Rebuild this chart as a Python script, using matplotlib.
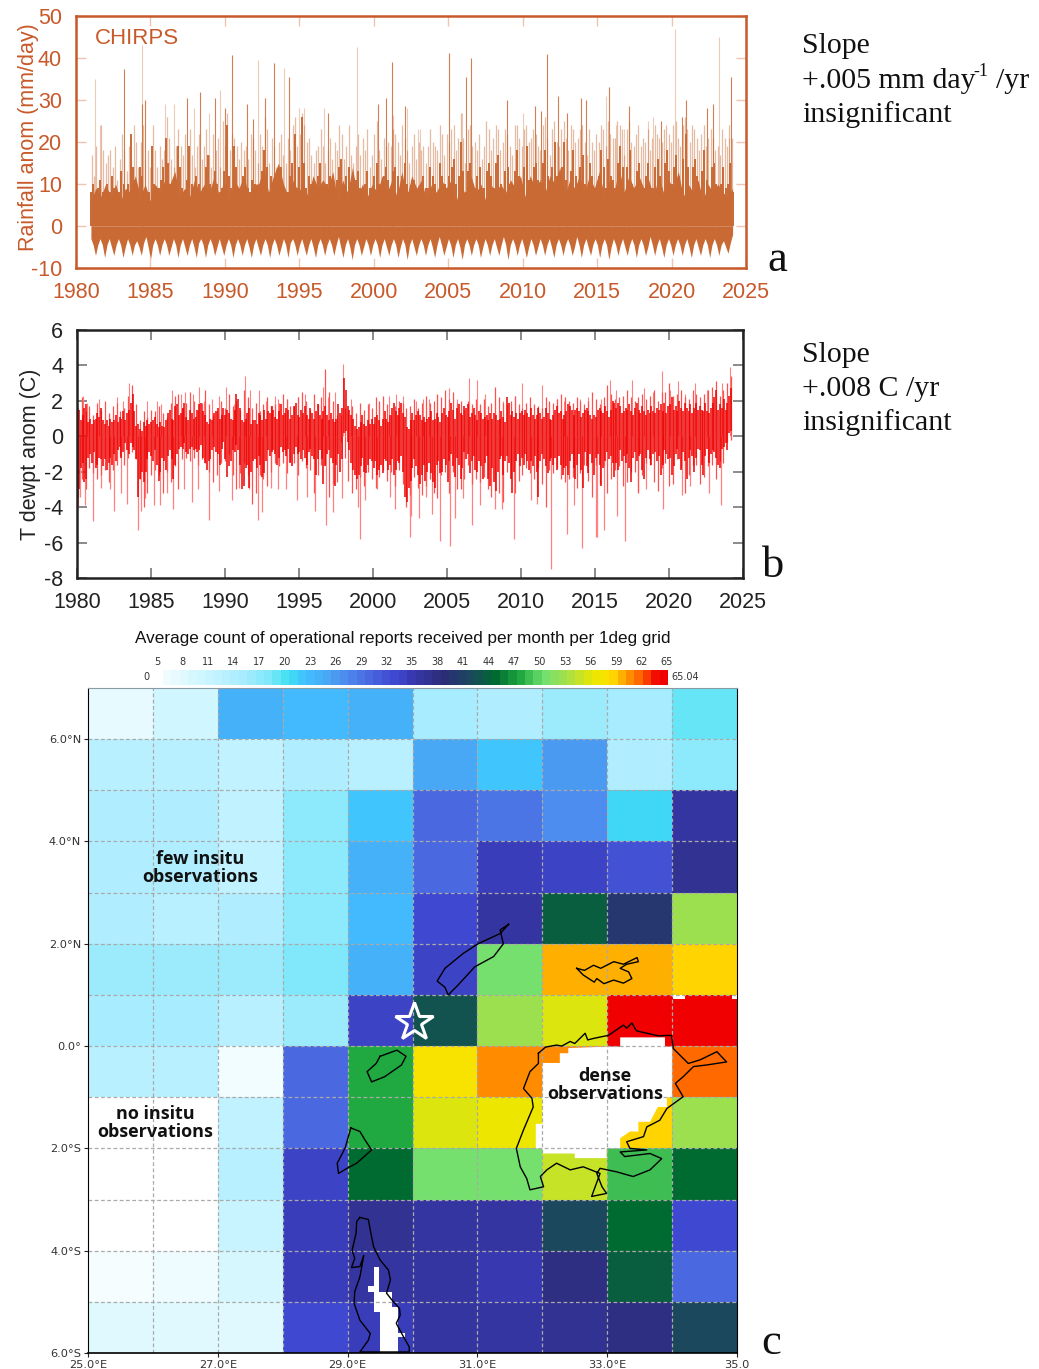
import numpy as np
import matplotlib
matplotlib.use('Agg')
import matplotlib.pyplot as plt
from matplotlib.colors import LinearSegmentedColormap

plt.rcParams['font.family'] = ['Liberation Sans', 'DejaVu Sans']
plt.rcParams['axes.unicode_minus'] = False

W, H = 1039, 1369

# ---- panel a, rainfall
rain_base = [
 6,9,7,10, 7,10,6,9, 8,12,7,10, 6,10,8,11, 10,13,7,9, 7,11,8,10, 8,12,7,11, 6,11,9,12, 7,10,10,14, 8,12,15,10,
 7,11,8,10, 7,12,9,11, 9,13,6,11, 8,14,7,10, 7,10,8,12, 8,11,7,13, 7,12,9,11, 6,10,8,11, 9,11,6,10, 7,12,8,10,
 6,10,8,10, 8,11,9,12, 7,12,9,11, 8,12,10,14, 7,11,9,12, 8,12,9,13, 7,11,8,14, 8,12,9,12, 9,11,7,12, 8,11,9,13,
 7,10,8,11, 6,10,8,10, 8,7,9]
rain_low = [
 -3,-4.5,-7,-4.5,-3,-4.5,-7.5,-4.5, -3,-5,-7,-4.5,-3,-4.5,-7.5,-5, -3,-4.5,-7,-4.5,-3.5,-5,-7,-4, -2.5,-5,-8,-4.5,-3,-4.5,-7,-4.5,
 -3,-4.5,-7,-5,-3,-4.5,-7.5,-4.5, -3,-5,-7,-4.5,-3,-5,-7.5,-4, -3,-4.5,-7.5,-4.5,-3,-4.5,-7,-5, -3,-5,-7,-4.5,-3,-4.5,-7.5,-4.5,
 -3,-4.5,-7,-4.5,-3,-5,-7.5,-4.5, -3,-5,-7,-4.5,-3,-4.5,-7.5,-4.5, -3,-4.5,-7,-5,-3,-4.5,-7.5,-4, -3,-4.5,-7,-4.5,-3,-5,-7,-4.5,
 -3,-5,-7.5,-4.5,-3,-4.5,-7,-4.5, -3,-4.5,-7,-4.5,-2.5,-5,-7.5,-4.5, -3,-5,-8,-4.5,-3,-4.5,-7,-5, -3,-4.5,-7,-4.5,-3,-4.5,-7.5,-4.5,
 -3,-5,-7,-4.5,-3,-4.5,-7.5,-5, -3,-4.5,-8,-4.5,-3,-5,-7,-4.5, -3,-4.5,-7,-4.5,-3,-5,-7.5,-4.5, -2.5,-4.5,-7,-5,-3,-4.5,-7.5,-4.5,
 -3,-5,-8,-4.5,-3,-4.5,-7,-4.5, -3,-4.5,-7.5,-5,-3,-4.5,-7,-4.5, -3,-5,-7,-4.5,-2.5,-4.5,-8,-4.5, -3,-4.5,-7,-4.5,-3,-5,-7.5,-5,
 -3,-4.5,-7,-5,-3,-4.5,-7,-4.5, -3,-5,-7.5,-4.5,-3,-4.5,-7,-4.5, -3,-4.5,-7,-5,-2.5,-4.5,-7.5,-4.5, -3,-5,-7,-4.5,-3,-4.5,-7.5,-4.5,
 -3,-4.5,-8,-5,-3,-4.5,-7,-4.5, -3,-5,-7,-4.5,-3,-4.5,-7.5,-4.5, -3,-4.5,-7,-5,-2.5,-4.5,-7,-4.5, -3,-5,-7.5,-4.5,-3,-4.5,-7,-4.5,
 -3,-4.5,-7,-4.5,-3,-5,-7.5,-4.5, -3,-5,-7,-4.5,-3,-4.5,-7.5,-4.5, -3,-4.5,-7,-4.5,-3.5,-5,-6.5,-4, -2]
rain_dark = [
 8,10,7,9,11,8,7,10, 8,12,9,7,8,13,10,8, 10,22,14,11,9,14,12,8, 7,8,19,10,8,9,11,14,
 21,15,10,8,12,19,14,9, 8,11,19,10,7,12,10,8, 9,14,17,10,8,13,10,8, 9,13,24,12,9,19,14,9,
 8,12,14,9,8,11,10,8, 10,13,18,14,8,12,11,7, 9,14,10,8,8,12,15,22, 9,14,26,15,9,12,10,8,
 8,12,15,10,8,10,12,9, 9,11,14,16,9,12,14,9, 8,11,13,9,8,10,13,9, 9,12,15,10,8,12,14,11,
 9,13,14,12,8,12,15,10, 8,11,11,9,8,10,12,9, 9,14,12,10,8,15,12,10, 9,12,14,16,10,12,20,13,
 8,13,15,10,9,12,14,9, 9,13,15,12,9,15,17,10, 8,13,14,10,9,13,18,12, 9,14,19,11,9,14,15,11,
 9,15,18,12,9,14,20,12, 10,14,20,11,9,13,18,12, 9,14,17,10,8,15,12,9, 9,12,18,14,9,16,12,11,
 9,15,19,14,8,14,18,10, 9,13,15,10,9,12,15,9, 9,14,16,12,9,15,18,13, 10,14,17,12,9,16,22,14,
 9,14,16,12,8,13,18,11, 9,14,15,10,8,10,14,9, 10,15,8]
rain_light = [
 17,12,19,11,24,18,15,17, 18,14,19,11,16,22,18,13, 19,16,24,20,14,20,24,16, 18,14,24,18,14,19,16,18,
 26,21,16,14,19,23,19,17, 22,16,23,17,14,19,22,16, 19,23,17,14,22,18,21,14, 25,19,27,18,22,21,19,16,
 20,18,19,16,22,21,18,15, 22,19,26,23,15,21,19,14, 20,22,17,15,21,18,24,26, 19,22,27,24,20,21,17,15,
 18,19,23,19,15,18,21,16, 20,18,24,22,16,19,24,17, 15,19,22,17,21,18,23,14, 17,22,25,18,16,21,19,20,
 19,23,22,20,17,24,21,18, 15,19,22,16,20,18,19,15, 19,23,20,19,18,24,22,17, 22,20,23,24,18,21,27,21,
 15,23,24,19,20,18,22,16, 19,25,23,18,21,24,23,18, 20,23,22,19,17,24,24,21, 19,23,24,20,21,23,22,19,
 18,24,26,21,17,23,25,20, 19,23,25,21,18,24,23,20, 21,23,24,20,17,23,20,18, 22,20,24,23,19,25,22,21,
 21,25,24,23,17,23,25,20, 19,22,24,19,21,20,23,18, 21,24,22,21,20,23,24,22, 20,24,25,21,19,24,26,23,
 20,24,23,21,18,22,24,19, 21,23,21,18,19,17,23,21, 19,24,21]
rain_spike_year = [1981.25, 1981.6, 1983.2, 1984.4, 1984.42, 1984.65, 1986.0, 1986.55, 1987.45, 1987.9, 1988.35,
 1989.35, 1989.7, 1988.95, 1990.45, 1990.0, 1991.5, 1991.9, 1992.2, 1992.7, 1993.3, 1994.0, 1994.3, 1995.0, 1995.3,
 1996.65, 1996.9, 1998.9, 2000.3, 2000.85, 2001.2, 2001.3, 2002.1, 2002.25, 2002.95, 2003.1, 2005.03, 2006.2,
 2006.5, 2005.9, 2008.95, 2010.05, 2010.8, 2011.2, 2011.65, 2012.35, 2012.95, 2013.9, 2014.25, 2015.6, 2015.8,
 2016.3, 2016.8, 2017.15, 2018.4, 2018.75, 2019.3, 2020.25, 2020.7, 2020.95, 2022.35, 2022.8, 2023.2, 2023.85, 2024.0]
rain_spike_val = [35, 24, 37.5, 43, 29, 30, 29, 29, 30.5, 28, 32,
 30.5, 32.5, 27, 40.7, 28, 29, 25.5, 39.5, 30.5, 38.7, 37.7, 35.5, 28, 28,
 28, 27, 42.7, 29, 30.5, 39, 26.5, 28.5, 28, 23, 23, 41.3, 35.5,
 40, 27, 30, 27, 28.5, 27.5, 41, 31, 27, 30.5, 30, 31, 33,
 24, 23, 28.5, 25, 26, 25, 47, 26, 30, 28, 29, 45, 21, 35.5]
rain_spike_dark = [0, 0, 1, 0, 1, 1, 0, 0, 1, 0, 1,
 1, 0, 0, 1, 1, 1, 1, 0, 1, 1, 0, 1, 0, 0,
 0, 1, 0, 1, 1, 1, 0, 1, 0, 0, 0, 1, 1,
 1, 0, 1, 0, 1, 1, 1, 1, 1, 1, 1, 0, 1,
 0, 0, 1, 0, 0, 1, 0, 1, 1, 1, 1, 0, 0, 1]

# ---- panel b, dew point anomaly, eight readings a year from 1980
dew_hi = [
 1.0,1.5,0.9,1.2,1.6,1.8,0.8,1.0, 0.7,0.9,1.0,1.3,1.1,1.6,0.9,0.7, 0.9,0.6,1.0,0.8,0.9,1.2,0.8,1.1,
 1.0,1.4,0.9,1.3,1.5,1.9,2.4,1.4, 0.6,0.7,0.4,0.3,0.8,0.6,0.9,0.7, 0.8,0.9,1.1,0.7,0.5,0.8,0.6,0.5,
 0.9,1.3,1.5,1.0,0.9,1.7,1.8,1.2, 1.3,1.6,1.9,1.1,0.9,1.5,1.3,1.0, 1.1,1.5,1.8,1.9,1.4,1.2,0.8,0.7,
 1.0,0.9,1.3,1.4,1.6,1.0,1.2,1.6, 1.2,1.5,1.3,1.0,0.9,1.5,2.4,2.1, 1.6,0.9,0.8,1.0,1.3,1.6,0.7,0.9,
 0.9,0.7,1.3,1.2,0.9,1.5,1.0,1.4, 1.3,1.7,1.5,1.1,1.0,1.4,1.8,1.2, 1.3,1.6,1.5,1.0,1.2,1.7,1.9,1.2,
 1.1,1.5,1.3,1.7,1.2,1.0,1.6,1.3,
 1.0,1.4,1.8,1.2,1.0,1.4,1.7,1.2, 0.9,1.3,1.0,0.8,1.0,1.8,1.3,1.6, 3.3,2.6,1.7,1.5,1.2,1.0,0.6,0.4,
 0.5,0.8,1.2,0.7,0.6,0.9,0.7,1.0, 0.7,1.1,1.2,0.9,0.6,1.0,1.4,1.0, 0.8,1.2,1.6,1.9,1.4,1.2,1.6,1.9,
 1.3,1.1,0.5,0.4,0.9,1.3,0.9,1.2, 1.4,1.2,0.9,1.1,0.8,1.0,1.1,1.4, 0.9,1.0,1.3,1.1,0.8,1.3,1.6,1.2,
 1.1,1.4,1.9,1.5,1.0,1.6,1.8,1.3, 1.2,1.7,1.6,1.8,1.1,1.3,1.6,1.2, 0.9,1.4,1.3,1.0,1.1,1.2,0.9,1.3,
 1.0,1.3,1.2,0.9,1.0,1.4,1.1,0.8, 2.2,1.9,1.2,1.4,1.1,1.3,1.0,1.3, 1.4,1.2,1.5,1.3,1.1,1.6,1.2,1.0,
 1.2,1.6,1.3,1.0,1.1,1.6,1.3,1.0, 0.9,1.2,1.5,1.7,1.3,1.4,1.0,1.2, 1.4,1.8,1.7,1.5,1.2,1.5,1.6,1.4,
 1.1,1.3,1.5,1.6,1.4,1.2,1.0,1.2, 1.1,1.5,1.6,1.4,1.3,1.7,1.4,1.1, 1.5,2.0,1.9,1.6,1.9,1.7,1.3,1.4,
 1.6,1.5,1.8,1.4,1.2,1.6,1.9,1.5, 1.3,1.7,1.4,1.2,1.5,1.3,1.7,1.4, 1.3,1.6,1.5,1.8,1.4,1.9,1.3,1.7,
 1.8,2.2,1.5,1.7,1.4,2.0,1.6,1.4, 1.9,1.6,1.4,1.8,1.3,1.6,1.9,1.5, 1.7,1.5,1.4,1.9,1.4,1.3,1.6,1.9,
 2.2,2.6,1.5,1.8,1.6,2.1,1.5,1.9, 2.3,2.7]
dew_lo = [
 -2.5,-3.0,-1.8,-1.5,-2.6,-2.4,-1.2,-1.0, -1.5,-0.9,-1.8,-1.6,-1.2,-1.3,-1.7,-1.3, -1.9,-1.5,-1.2,-1.6,-1.0,-1.4,-0.8,-0.6,
 -1.2,-0.9,-0.4,-0.8,-1.0,-0.4,-0.6,-0.8, -1.3,-3.4,-2.4,-2.0,-2.6,-2.0,-1.3,-0.9, -1.1,-1.4,-0.8,-1.6,-2.5,-2.0,-1.2,-1.4,
 -1.9,-1.1,-0.8,-1.3,-2.4,-1.6,-1.0,-0.7, -0.6,-0.7,-0.4,-0.9,-1.0,-0.7,-0.6,-0.8, -0.7,-0.9,-0.8,-0.5,-1.2,-1.5,-1.9,-1.4,
 -1.3,-0.8,-0.6,-0.9,-1.0,-1.6,-0.7,-0.3, -1.3,-2.3,-1.7,-1.4,-0.8,-0.9,-0.5,-0.8, -1.6,-3.0,-2.8,-1.8,-1.6,-2.9,-2.0,-1.4,
 -1.3,-1.8,-1.1,-1.6,-2.3,-2.1,-1.4,-0.8, -1.1,-0.9,-0.8,-1.0,-1.6,-1.2,-0.6,-0.9, -0.8,-1.1,-0.7,-1.5,-1.7,-1.0,-0.6,-1.0,
 -0.9,-1.3,-0.8,-1.2,-1.6,-0.9,-0.7,-1.1,
 -1.3,-2.2,-1.3,-0.8,-1.3,-2.7,-1.7,-1.0, -0.8,-1.2,-1.5,-2.8,-1.6,-1.0,-2.0,-1.3, 0.2,0.3,-0.3,-0.8,-1.5,-1.9,-2.2,-2.4,
 -2.2,-1.7,-1.2,-2.0,-2.1,-1.6,-1.3,-1.4, -1.8,-1.4,-2.2,-1.9,-1.6,-2.1,-1.3,-1.4, -1.9,-1.6,-1.3,-2.2,-1.9,-1.4,-1.5,-1.1,
 -2.0,-3.4,-3.7,-2.9,-2.5,-1.8,-1.3,-1.7, -2.2,-2.7,-2.2,-1.6,-2.5,-2.0,-1.5,-2.1, -2.6,-2.9,-1.6,-1.4,-2.1,-2.0,-1.3,-1.6,
 -2.6,-1.4,-1.0,-1.7,-2.3,-1.2,-1.6,-2.4, -1.8,-0.9,-1.3,-1.0,-2.1,-1.4,-1.1,-1.9, -2.0,-1.4,-1.7,-2.4,-1.5,-1.1,-2.4,-2.8,
 -1.8,-2.6,-3.1,-2.0,-1.3,-1.1,-2.2,-1.4, -1.1,-1.5,-2.4,-3.2,-2.0,-1.4,-1.0,-1.7, -1.2,-1.6,-1.0,-1.4,-1.9,-1.4,-1.7,-1.1,
 -2.0,-3.4,-1.4,-1.0,-1.3,-1.7,-2.1,-1.4, -1.2,-1.6,-1.2,-1.9,-1.1,-1.6,-2.2,-1.8, -1.7,-2.2,-1.4,-1.0,-1.8,-2.4,-1.6,-1.0,
 -1.9,-2.9,-0.9,-1.7,-2.1,-1.0,-1.5,-2.2, -1.2,-1.0,-1.6,-2.8,-1.8,-1.4,-0.9,-1.3, -1.1,-1.5,-2.3,-1.5,-1.9,-0.8,-1.4,-1.1,
 -1.5,-1.0,-1.8,-2.6,-1.2,-0.9,-1.4,-1.1, -1.0,-1.9,-2.4,-1.2,-0.8,-1.3,-1.6,-1.0, -0.9,-1.4,-1.1,-2.2,-1.6,-0.8,-1.0,-1.3,
 -1.2,-2.2,-1.7,-1.0,-0.7,-1.3,-1.9,-0.9, -1.4,-2.4,-1.2,-0.8,-1.1,-2.0,-1.2,-0.7, -0.8,-1.6,-2.2,-1.1,-0.7,-1.5,-1.0,-0.8,
 -0.9,-1.2,-1.6,-1.8,-0.7,-0.6,-0.4,-0.8, 0.2,0.3]
# the paler fringe round the dark band, four readings a year
dew_soft_hi = [
 1.6,2.2,1.4,1.7, 1.2,1.9,1.5,2.0, 1.3,1.7,1.9,1.4, 1.6,2.3,2.9,1.8, 0.9,1.4,1.1,1.5, 1.4,1.7,1.3,1.1,
 1.9,2.3,2.4,1.6, 1.9,2.5,2.0,1.5, 1.9,2.6,1.8,1.2, 1.4,2.0,1.6,2.4, 1.7,2.0,1.5,2.6, 2.2,1.6,1.9,1.4,
 1.8,2.2,1.7,1.8, 1.9,2.4,2.1,1.7, 1.7,2.2,2.5,2.0, 1.5,2.4,1.8,2.2, 3.8,2.5,2.0,1.2, 1.2,1.6,1.3,1.7,
 1.3,1.9,1.5,1.8, 1.6,2.2,2.0,2.3, 1.8,1.2,1.7,2.0, 1.9,1.6,1.7,2.1, 1.6,1.9,2.3,1.9, 2.0,2.4,2.2,2.6,
 2.1,2.5,1.9,2.0, 1.5,2.0,1.8,2.1, 1.8,2.1,1.7,1.9, 2.8,2.2,1.9,1.8, 2.0,2.3,1.8,1.6, 1.9,2.2,1.8,1.7,
 1.6,2.2,2.0,1.9, 2.1,2.4,2.2,2.0, 1.9,2.2,2.0,1.8, 2.0,2.5,2.1,1.8, 2.2,2.9,2.4,2.1, 2.2,2.3,2.6,2.2,
 2.0,2.2,2.4,2.1, 2.3,2.6,2.0,2.5, 2.5,3.0,2.3,2.4, 2.6,2.2,2.1,2.6, 2.4,2.2,2.4,2.6, 2.8,3.1,2.3,2.6,
 3.0,3.4]
dew_soft_lo = [
 -3.4,-2.4,-3.0,-1.8, -2.1,-2.4,-2.2,-1.9, -2.6,-1.9,-1.6,-1.1, -1.6,-1.2,-0.9,-1.3, -2.4,-4.0,-3.2,-2.2, -1.9,-2.2,-3.2,-2.0,
 -2.6,-1.7,-3.0,-1.3, -1.2,-1.4,-1.2,-1.6, -1.3,-1.5,-2.0,-2.6, -2.2,-1.5,-1.4,-1.0, -2.2,-3.0,-2.1,-1.5, -2.2,-3.8,-3.2,-2.2,
 -2.4,-2.8,-2.0,-1.5, -1.7,-1.5,-2.1,-1.4, -1.5,-2.2,-1.4,-1.8, -1.9,-3.2,-2.2,-1.6, -1.6,-3.4,-2.7,-2.6, -0.3,-1.2,-2.5,-3.2,
 -3.0,-2.3,-2.8,-2.0, -2.4,-2.9,-2.3,-1.9, -2.5,-2.0,-2.8,-1.9, -2.7,-4.0,-3.3,-2.3, -2.9,-3.3,-2.8,-2.4, -3.2,-3.5,-2.2,-2.0,
 -3.2,-2.0,-3.0,-3.0, -2.4,-1.6,-2.7,-2.4, -2.6,-2.3,-3.0,-3.4, -2.5,-3.2,-3.7,-2.0, -1.9,-3.2,-2.5,-2.2, -1.8,-2.1,-2.4,-1.8,
 -2.7,-4.0,-1.9,-2.1, -1.8,-2.4,-2.6,-2.4, -2.3,-2.9,-2.1,-1.6, -2.5,-3.4,-1.6,-2.7, -1.7,-3.2,-2.4,-1.9, -1.7,-2.8,-2.6,-2.0,
 -2.0,-3.2,-2.2,-1.5, -1.6,-2.6,-3.1,-1.8, -1.5,-2.8,-2.7,-1.3, -1.8,-3.2,-2.2,-1.6, -1.6,-2.7,-2.3,-1.7, -1.6,-2.4,-1.4,-1.5,
 -0.3,-0.2]
dew_up_year = [1980.4, 1980.7, 1981.5, 1982.7, 1983.1, 1983.5, 1984.7, 1985.4, 1985.7, 1986.45, 1987.0, 1987.3, 1987.85,
 1988.25, 1988.6, 1989.1, 1989.6, 1990.05, 1990.6, 1991.35, 1991.7, 1992.3, 1992.8, 1993.35, 1993.6, 1994.2, 1994.9,
 1995.4, 1996.0, 1996.6, 1996.95, 1997.4, 1997.98, 1998.5, 1999.7, 2000.4, 2001.1, 2001.55, 2002.05, 2002.9, 2003.35,
 2003.8, 2004.3, 2005.15, 2005.7, 2006.5, 2007.05, 2007.6, 2008.25, 2008.8, 2009.6, 2010.1, 2011.45, 2012.4, 2012.9,
 2014.0, 2014.5, 2015.4, 2016.0, 2016.45, 2017.5, 2018.3, 2018.9, 2019.5, 2020.05, 2020.6, 2021.1, 2021.75, 2022.6,
 2023.2, 2023.6, 2024.1]
dew_up_val = [2.3, 1.9, 2.1, 2.2, 2.0, 3.0, 2.0, 2.0, 1.8, 2.6, 2.4, 2.5, 2.4,
 2.8, 2.0, 2.1, 2.3, 2.8, 1.8, 3.4, 2.6, 2.6, 2.0, 2.3, 2.1, 2.1, 2.2,
 2.4, 2.1, 2.8, 2.2, 2.5, 4.1, 2.1, 1.9, 1.9, 2.3, 2.4, 2.3, 2.0, 2.1,
 2.1, 2.3, 2.7, 2.1, 3.3, 3.2, 2.4, 2.1, 2.0, 2.3, 3.0, 2.9, 2.1, 2.0,
 2.1, 2.2, 2.1, 3.2, 2.6, 3.2, 2.7, 2.5, 3.7, 2.6, 3.1, 2.4, 3.0, 2.6,
 2.4, 3.0, 3.9]
dew_down_year = [1980.05, 1980.2, 1980.55, 1981.05, 1981.6, 1982.2, 1982.5, 1982.95, 1983.35, 1984.15, 1984.35, 1984.6, 1985.2,
 1985.6, 1986.05, 1986.5, 1987.2, 1987.75, 1988.15, 1988.95, 1989.6, 1990.45, 1990.95, 1991.6, 1992.2, 1992.5, 1993.1,
 1993.55, 1994.15, 1994.85, 1995.55, 1996.1, 1996.8, 1997.3, 1997.9, 1999.0, 1999.1, 1999.45, 2000.3, 2001.15, 2001.5,
 2002.5, 2002.55, 2003.1, 2003.55, 2004.0, 2004.5, 2005.2, 2005.55, 2006.05, 2006.7, 2007.2, 2008.25, 2008.7, 2009.5,
 2010.65, 2011.1, 2012.0, 2013.1, 2013.6, 2014.1, 2015.05, 2015.15, 2015.6, 2016.5, 2017.0, 2017.9, 2018.45, 2019.6,
 2020.85, 2021.45, 2022.7, 2023.5]
dew_down_val = [-4.0, -3.4, -3.9, -4.8, -2.9, -3.0, -4.2, -3.2, -3.8, -5.3, -4.2, -3.5, -3.9,
 -3.9, -3.2, -4.1, -3.0, -3.7, -3.0, -4.7, -3.1, -3.6, -2.9, -3.0, -4.7, -4.3, -2.9,
 -3.0, -3.0, -3.6, -3.4, -4.2, -5.0, -4.3, -3.5, -4.0, -5.8, -3.6, -3.0, -3.4, -4.1,
 -5.7, -4.5, -4.6, -3.4, -4.4, -5.9, -6.2, -4.6, -3.5, -5.0, -3.9, -4.1, -4.1, -5.8,
 -3.6, -3.8, -7.5, -5.5, -3.9, -6.3, -5.7, -5.7, -5.3, -4.5, -5.9, -3.1, -3.0, -4.1,
 -3.3, -2.8, -3.2, -3.9]

# ---- panel c, count per 1 deg cell, top row is 6-7N
count_grid = [
 [6.5, 9, 23, 22.5, 23, 14, 13, 15.5, 14, 18.5],
 [12, 12, 11, 13, 12.5, 24.5, 21.5, 25, 13, 16.5],
 [13, 13, 11, 16, 21, 29.5, 28, 26, 20, 36],
 [13, 13, 11, 16, 23.5, 29.5, 34, 33, 31, 37],
 [13, 12, 13, 16, 22, 32, 35.5, 44, 39.5, 52.5],
 [15, 15, 15, 17, 23.5, 33, 51, 59.3, 59.9, 58.6],
 [14.5, 14, 12, 15.5, 33, 42.5, 53, 56, 65, 65],
 [12, 12, 4, 29.5, 48, 58, 60.8, 60.8, 65, 62],
 [ 0, 0, 11, 29.5, 47.5, 55.5, 56.5, 56.5, 58.6, 53],
 [ 0, 0, 12, 33, 44.5, 50.5, 51, 54.5, 48.7, 44.5],
 [ 0, 0, 10, 34, 37, 35.5, 36, 41.5, 45, 32.5],
 [ 3, 5, 8, 34, 36, 35.5, 35, 38, 43.5, 29.5],
 [ 7, 7, 7, 32, 34, 35.5, 35.5, 37, 38, 41.5],
]
cmap_levels = [0, 5, 10, 14, 17, 19.4, 21.4, 24, 26.4, 29, 32, 35, 38.8, 42.3, 45, 48, 50.8, 54, 56.6, 58.7, 60, 62.3, 64.3, 65.04]
cmap_colors = ['#ffffff', '#eefcff', '#c8f4ff', '#a8ecff', '#80e8fa', '#40e0f0', '#40c0ff', '#48a8f5', '#4d88ee',
               '#4a68e0', '#3f48d0', '#3838b0', '#2c2c78', '#1a4a5a', '#006a30', '#20a840', '#70e070', '#b0e040',
               '#e8e800', '#ffe000', '#ffb000', '#ff6000', '#f00000', '#f00000']
bar_ticks = [5, 8, 11, 14, 17, 20, 23, 26, 29, 32, 35, 38, 41, 44, 47, 50, 53, 56, 59, 62, 65]

# white areas and lake outlines, lon then lat
white_lake_lon = [33.2,33.2,33.89,33.89,34.0,34.0,33.92,33.92,33.78,33.66,33.48,33.48,33.35,33.2,33.2,32.99,32.99,32.5,32.5,32.0,32.0,31.9,31.9,32.0,32.0,32.27,32.27,32.4,32.4,32.99]
white_lake_lat = [-0.01,0.17,0.17,-0.01,-0.01,-1.0,-1.0,-1.19,-1.19,-1.48,-1.48,-1.67,-1.67,-1.8,-2.0,-2.0,-2.19,-2.19,-2.1,-2.1,-2.0,-2.0,-1.52,-1.52,-0.33,-0.33,-0.14,-0.14,-0.04,-0.01]
white_tang_lon = [29.41,29.49,29.49,29.68,29.68,29.78,29.78,29.88,29.88,29.78,29.78,29.5,29.5,29.41,29.41,29.32,29.32,29.41]
white_tang_lat = [-4.31,-4.31,-4.8,-4.8,-5.1,-5.1,-5.6,-5.6,-5.68,-5.68,-6.0,-6.0,-5.19,-5.19,-4.8,-4.8,-4.70,-4.70]
white_notch_lon = [34.02, 34.2, 34.2, 34.02]
white_notch_lat = [1.0, 1.0, 0.92, 0.92]
white_notch2_lon = [34.92, 35.0, 35.0, 34.92]
white_notch2_lat = [1.0, 1.0, 0.93, 0.93]
victoria_lon = [31.94,32.05,32.22,32.3,32.43,32.5,32.66,32.7,32.79,33.02,33.1,33.25,33.3,33.38,33.45,33.51,33.79,33.99,34.02,34.25,34.43,34.69,34.84,34.53,34.33,34.17,34.05,34.17,33.92,33.81,33.61,33.56,33.30,33.35,33.61,33.20,33.27,33.66,33.84,33.66,33.40,33.15,32.89,32.84,32.92,32.99,32.76,32.89,32.63,32.43,32.22,32.07,31.97,32.02,31.81,31.76,31.66,31.60,31.71,31.86,31.84,31.71,31.81,31.94,31.94]
victoria_lat = [-0.14,-0.02,0.02,0.0,0.09,0.05,0.25,0.12,0.15,0.21,0.28,0.41,0.35,0.45,0.3,0.28,0.2,0.21,-0.05,-0.34,-0.27,-0.11,-0.31,-0.37,-0.40,-0.6,-0.73,-0.99,-1.22,-1.45,-1.58,-1.77,-1.87,-2.0,-2.03,-2.07,-2.16,-2.1,-2.2,-2.42,-2.55,-2.46,-2.39,-2.49,-2.75,-2.88,-2.94,-2.49,-2.36,-2.42,-2.29,-2.42,-2.55,-2.75,-2.81,-2.59,-2.36,-2.0,-1.64,-1.19,-1.02,-0.83,-0.5,-0.34,-0.14]
albert_lon = [31.48,31.35,31.40,31.25,30.96,30.70,30.55,30.50,30.38,30.50,30.78,31.01,31.35,31.48]
albert_lat = [2.38,2.27,2.0,1.75,1.55,1.19,1.0,1.15,1.27,1.52,1.81,2.0,2.2,2.38]
kyoga_lon = [32.53,32.65,32.79,32.9,33.1,33.25,33.46,33.48,33.3,33.2,33.33,33.38,33.25,33.1,32.95,32.84,32.8,32.63,32.53]
kyoga_lat = [1.52,1.48,1.58,1.52,1.65,1.6,1.73,1.65,1.6,1.52,1.45,1.32,1.23,1.29,1.22,1.32,1.25,1.39,1.52]
edward_lon = [29.5,29.76,29.9,29.83,29.57,29.37,29.3,29.44,29.5]
edward_lat = [-0.2,-0.08,-0.2,-0.37,-0.6,-0.7,-0.5,-0.34,-0.2]
kivu_lon = [29.05,29.19,29.27,29.37,29.14,28.99,28.86,28.84,28.96,29.05]
kivu_lat = [-1.6,-1.67,-1.84,-2.03,-2.29,-2.39,-2.49,-2.29,-2.0,-1.6]
tang_lon = [29.19,29.32,29.35,29.40,29.5,29.63,29.66,29.60,29.68,29.80,29.81,29.75,29.86,29.95,29.95,29.19,29.32,29.35,29.19,29.1,29.11,29.19,29.25,29.19,29.06,29.11,29.07,29.13,29.14,29.19]
tang_lat = [-3.35,-3.39,-3.60,-3.92,-4.18,-4.38,-4.57,-4.83,-4.96,-5.13,-5.26,-5.42,-5.68,-5.88,-5.98,-5.98,-5.75,-5.62,-5.36,-5.03,-4.8,-4.51,-4.09,-4.31,-4.33,-4.15,-3.99,-3.66,-3.43,-3.35]


def px_axes(left, top, right, bottom):
    return fig.add_axes([left / W, 1 - bottom / H, (right - left) / W, (bottom - top) / H])


def px_text(x, y, s, **kw):
    fig.text(x / W, 1 - y / H, s, **kw)


fig = plt.figure(figsize=(W / 100, H / 100), dpi=100)

# panel a
orange = '#c8592a'
band = '#c96a35'
ax = px_axes(76, 16, 746, 268)
x_base = np.linspace(1981.0, 2024.1, len(rain_base))
x_low = np.linspace(1981.0, 2024.1, len(rain_low))
x_dark = np.linspace(1981.0, 2024.1, len(rain_dark))
x_light = np.linspace(1981.06, 2024.04, len(rain_light))
ax.vlines(x_light, 0, rain_light, color=band, lw=0.9, alpha=0.45)
ax.vlines(x_dark, 0, rain_dark, color=band, lw=1.4)
ax.fill_between(x_base, 0, rain_base, color=band, lw=0)
ax.fill_between(x_low, rain_low, 0, color=band, lw=0)
for y, v, d in zip(rain_spike_year, rain_spike_val, rain_spike_dark):
    ax.vlines(y, 0, v, color=band, lw=0.8, alpha=0.85 if d else 0.35)
ax.set_xlim(1980, 2025)
ax.set_ylim(-10, 50)
ax.set_xticks(range(1980, 2026, 5))
ax.set_yticks(range(-10, 51, 10))
ax.tick_params(direction='in', top=True, right=True, length=7, width=1, color='#eec5b0',
               labelsize=15.5, labelcolor=orange, pad=10)
for s in ax.spines.values():
    s.set_color(orange)
    s.set_linewidth(1.8)
ax.set_ylabel('Rainfall anom (mm/day)', fontsize=15.5, color=orange, labelpad=-6, y=0.52)
ax.text(1981.3, 44.6, 'CHIRPS', fontsize=16, color=orange, va='center')

# panel b
red = '#ee0000'
pink = '#ff8080'
ax = px_axes(77, 330, 743, 578)
x_dew = np.linspace(1980.0, 2024.2, len(dew_hi))
ax.vlines(dew_up_year, 0, dew_up_val, color=pink, lw=0.8)
ax.vlines(dew_down_year, dew_down_val, 0, color=pink, lw=0.9)
ax.vlines(np.linspace(1980.06, 2024.2, len(dew_soft_hi)), 0, dew_soft_hi, color='#ff5050', lw=0.9)
ax.vlines(np.linspace(1980.06, 2024.2, len(dew_soft_lo)), dew_soft_lo, 0, color='#ff5050', lw=0.9)
ax.vlines(x_dew, dew_lo, dew_hi, color=red, lw=1.1)
ax.set_xlim(1980, 2025)
ax.set_ylim(-8, 6)
ax.set_xticks(range(1980, 2026, 5))
ax.set_yticks(range(-8, 7, 2))
ax.tick_params(direction='in', top=True, right=True, length=7, width=1.2, color='#777777',
               labelsize=15.5, labelcolor='#222222', pad=10)
for s in ax.spines.values():
    s.set_color('#222222')
    s.set_linewidth(1.8)
ax.set_ylabel('T dewpt anom (C)', fontsize=15.5, color='#222222', labelpad=2)

# side notes
serif = dict(family='Liberation Serif', fontsize=21.5, color='#111111', va='center')
for y, s in zip([46, 115], ['Slope', 'insignificant']):
    px_text(802, y, s, **serif)
px_text(802, 81, '+.005 mm day', **serif)
px_text(973, 71, '-1', family='Liberation Serif', fontsize=13, color='#111111', va='center')
px_text(996, 81, '/yr', **serif)
for y, s in zip([355, 389, 423], ['Slope', '+.008 C /yr', 'insignificant']):
    px_text(802, y, s, **serif)
letter = dict(family='Liberation Serif', fontsize=32, color='#111111', ha='center', va='baseline')
px_text(777, 271, 'a', **letter)
px_text(773, 577, 'b', **letter)
px_text(771, 1354, 'c', **letter)

# panel c
cmap = LinearSegmentedColormap.from_list('counts', [(v / 65.04, c) for v, c in zip(cmap_levels, cmap_colors)], N=66)
ax = px_axes(88, 688, 737, 1353)
lon_edges = np.arange(25, 36)
lat_edges = np.arange(7, -7, -1)
ax.pcolormesh(lon_edges, lat_edges, np.array(count_grid), cmap=cmap, vmin=0, vmax=65.04)
ax.fill(white_lake_lon, white_lake_lat, color='white', lw=0)
ax.fill(white_tang_lon, white_tang_lat, color='white', lw=0)
ax.fill(white_notch_lon, white_notch_lat, color='white', lw=0)
ax.fill(white_notch2_lon, white_notch2_lat, color='white', lw=0)
for lo in lon_edges[1:-1]:
    ax.axvline(lo, color='#aaaaaa', lw=0.9, ls=(0, (3, 2)))
for la in lat_edges[1:-1]:
    ax.axhline(la, color='#aaaaaa', lw=0.9, ls=(0, (3, 2)))
for lons, lats in [(victoria_lon, victoria_lat), (albert_lon, albert_lat), (kyoga_lon, kyoga_lat),
                   (edward_lon, edward_lat), (kivu_lon, kivu_lat), (tang_lon, tang_lat)]:
    ax.plot(lons, lats, color='black', lw=1)
ax.plot([30.02], [0.47], marker='*', ms=29, mfc='none', mec='white', mew=2.2)
ax.set_xlim(25, 35)
ax.set_ylim(-6, 7)
ax.set_xticks([25, 27, 29, 31, 33, 35])
ax.set_xticklabels(['25.0°E', '27.0°E', '29.0°E', '31.0°E', '33.0°E', '35.0'])
ax.set_yticks([-6, -4, -2, 0, 2, 4, 6])
ax.set_yticklabels(['6.0°S', '4.0°S', '2.0°S', '0.0°', '2.0°N', '4.0°N', '6.0°N'])
ax.tick_params(labelsize=8.2, labelcolor='#333333', length=3, width=0.8, pad=2, color='#222222',
               labelfontfamily='DejaVu Sans')
ax.spines['top'].set_color('#8a9aa5')
ax.spines['left'].set_linestyle((0, (1, 1)))
ax.spines['right'].set_linestyle((0, (1, 1)))
ax.spines['bottom'].set_linewidth(1.2)
note = dict(family='Open Sans', fontweight='bold', fontsize=13, color='#111111', ha='center', va='center', linespacing=1.0)
ax.text(26.73, 3.49, 'few insitu\nobservations', **note)
ax.text(26.03, -1.51, 'no insitu\nobservations', **note)
ax.text(32.97, -0.76, 'dense\nobservations', **note)

# colour bar
cax = px_axes(163, 670, 668, 685)
bar_edges = np.arange(5, 66)
cax.pcolormesh(bar_edges, [0, 1], np.array([bar_edges[:-1] + 0.5]), cmap=cmap, vmin=0, vmax=65.04)
cax.set_xlim(5, 65)
cax.axis('off')
for v in bar_ticks:
    px_text(157 + (v - 5) * 8.5, 662, str(v), family='DejaVu Sans', fontsize=7, color='#333333', ha='center', va='center')
px_text(146, 677, '0', family='DejaVu Sans', fontsize=7, color='#333333', ha='center', va='center')
px_text(671, 677, '65.04', family='DejaVu Sans', fontsize=7, color='#333333', ha='left', va='center')
px_text(403, 638, 'Average count of operational reports received per month per 1deg grid',
        family='Liberation Sans', fontsize=12.3, color='#111111', ha='center', va='center')

fig.savefig('out.png', dpi=100)
